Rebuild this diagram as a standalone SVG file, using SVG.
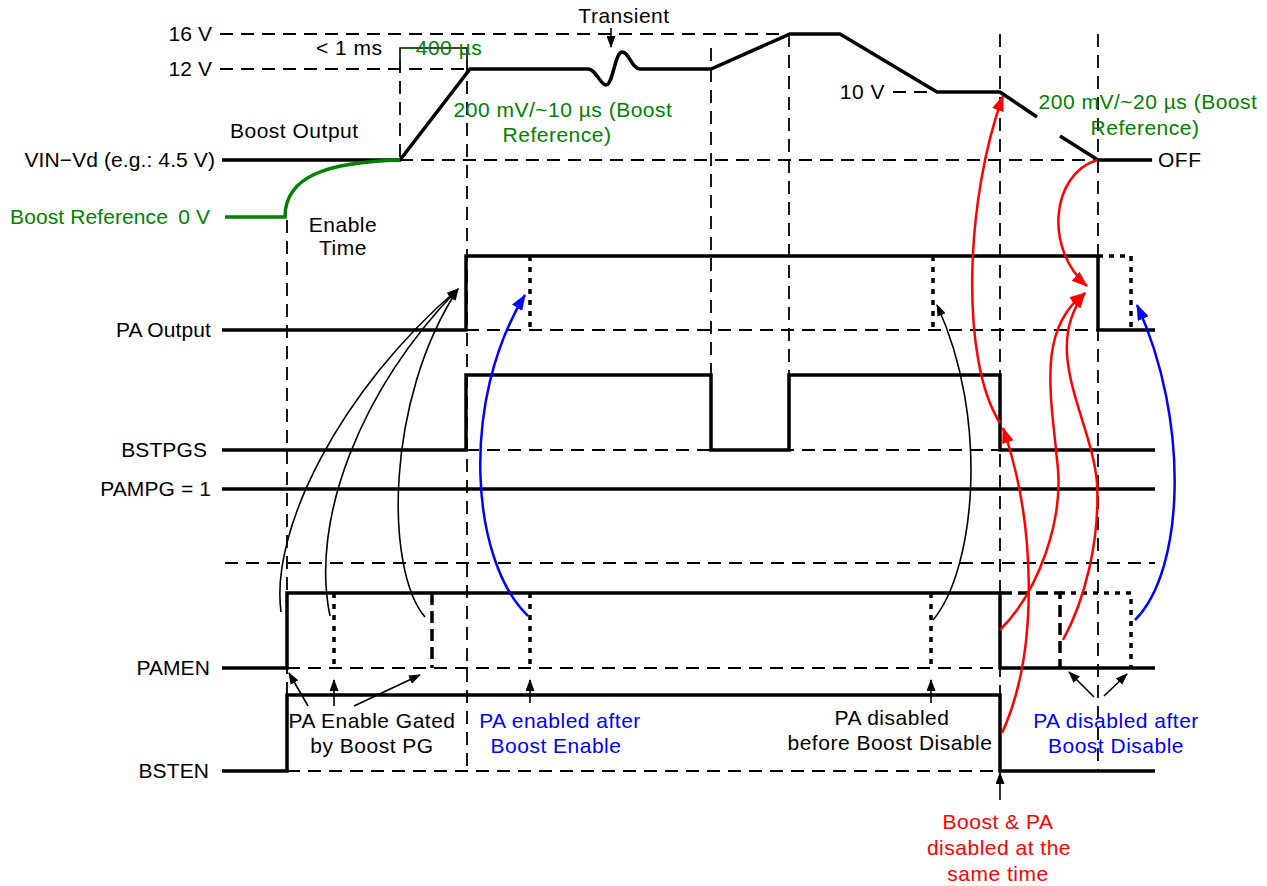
<svg xmlns="http://www.w3.org/2000/svg" width="1267" height="886" viewBox="0 0 1267 886">
<style>
text{font-family:"Liberation Sans",Arial,Helvetica,sans-serif;font-size:21px;letter-spacing:0.5px;fill:#000}
text.lbl{letter-spacing:0.1px}
.g{fill:#008000}.b{fill:#0000ff}.r{fill:#ff0000}
.sig{fill:none;stroke:#000;stroke-width:3.5;stroke-linejoin:miter}
.ref{fill:none;stroke:#000;stroke-width:1.8;stroke-dasharray:13 8}
.alt{fill:none;stroke:#000;stroke-width:3.5;stroke-dasharray:5 6}
.altd{fill:none;stroke:#000;stroke-width:3.5;stroke-dasharray:12 6}
.ca{fill:none;stroke:#000;stroke-width:1.6}
.cr{fill:none;stroke:#ff0000;stroke-width:2.5}
.cb{fill:none;stroke:#0000ff;stroke-width:2.5}
</style>
<defs>
<marker id="ak" viewBox="0 0 12 9" refX="11" refY="4.5" markerWidth="12" markerHeight="9" markerUnits="userSpaceOnUse" orient="auto"><path d="M0,0L12,4.5L0,9z" fill="#000"/></marker>
<marker id="ar" viewBox="0 0 16 12" refX="15" refY="6" markerWidth="16" markerHeight="12" markerUnits="userSpaceOnUse" orient="auto"><path d="M0,0L16,6L0,12z" fill="#ff0000"/></marker>
<marker id="ab" viewBox="0 0 16 12" refX="15" refY="6" markerWidth="16" markerHeight="12" markerUnits="userSpaceOnUse" orient="auto"><path d="M0,0L16,6L0,12z" fill="#0000ff"/></marker>
</defs>
<rect width="1267" height="886" fill="#fff"/>

<g id="grid">
<path class="ref" d="M220,34H790M220,69H470M400,160H1098M893,92H937M225,563H1155"/>
<path class="ref" d="M466,330H1098M466,450H1000M287,668H1000M287,771H1000"/>
<path class="ref" d="M287,220V771M400,60V160M467,60V771M711,48V450M789,34V450M1000,34V771M1098,34V771"/>
<path class="ca" d="M400,60V48H467V60"/>
</g>

<g id="boost-output">
<path class="sig" d="M222,160H400L470,69H588C596,69 600,85 606,85C613,85 615,52 622,52C629,52 632,69 640,69H711L790,34H840L937,92H1000L1037,117M1060,136L1098,160H1152"/>
<path fill="none" stroke="#008000" stroke-width="3.5" d="M225,217H285C285,175 330,162 400,160"/>
<text class="lbl" x="212" y="41" text-anchor="end">16 V</text>
<text class="lbl" x="212" y="76" text-anchor="end">12 V</text>
<text class="lbl" x="215" y="167" text-anchor="end">VIN−Vd (e.g.: 4.5 V)</text>
<text class="lbl g" x="168" y="224" text-anchor="end">Boost Reference</text>
<text class="lbl g" x="210" y="224" text-anchor="end">0 V</text>
<text x="230" y="138">Boost Output</text>
<text x="316" y="55">&lt; 1 ms</text>
<text class="g" x="403" y="55">~400 µs</text>
<text x="624" y="23" text-anchor="middle">Transient</text>
<text class="g" x="563" y="117" text-anchor="middle">200 mV/~10 µs (Boost</text>
<text class="g" x="557" y="142" text-anchor="middle">Reference)</text>
<text x="343" y="232" text-anchor="middle">Enable</text>
<text x="343" y="255" text-anchor="middle">Time</text>
<text x="885" y="99" text-anchor="end">10 V</text>
<text class="g" x="1148" y="109" text-anchor="middle">200 mV/~20 µs (Boost</text>
<text class="g" x="1145" y="135" text-anchor="middle">Reference)</text>
<text x="1158" y="167">OFF</text>
</g>

<g id="pa-output">
<path class="sig" d="M222,330H466V256H1098V330H1155"/>
<path class="alt" d="M530,256V330M933,256V330M1098,256H1131V330"/>
<text class="lbl" x="211" y="337" text-anchor="end">PA Output</text>
</g>

<g id="bstpgs">
<path class="sig" d="M222,450H466V375H711V450H789V375H1000V450H1155"/>
<text class="lbl" x="207" y="457" text-anchor="end">BSTPGS</text>
</g>

<g id="pampg">
<path class="sig" d="M222,489H1155"/>
<text class="lbl" x="211" y="496" text-anchor="end">PAMPG = 1</text>
</g>

<g id="pamen">
<path class="sig" d="M222,668H287V593H1000V668H1155"/>
<path class="alt" d="M334,593V668M530,593V668M931,593V668M1060,593H1131V668"/>
<path class="altd" d="M432,593V668M1000,593H1060V668"/>
<text class="lbl" x="210" y="675" text-anchor="end">PAMEN</text>
</g>

<g id="bsten">
<path class="sig" d="M222,771H287V695H1000V771H1155"/>
<text class="lbl" x="209" y="778" text-anchor="end">BSTEN</text>
</g>

<g id="annotations">
<text x="372" y="728" text-anchor="middle">PA Enable Gated</text>
<text x="372" y="753" text-anchor="middle">by Boost PG</text>
<text class="b" x="560" y="728" text-anchor="middle">PA enabled after</text>
<text class="b" x="556" y="753" text-anchor="middle">Boost Enable</text>
<text x="892" y="725" text-anchor="middle">PA disabled</text>
<text x="890" y="750" text-anchor="middle">before Boost Disable</text>
<text class="b" x="1116" y="728" text-anchor="middle">PA disabled after</text>
<text class="b" x="1116" y="753" text-anchor="middle">Boost Disable</text>
<text class="r" x="998" y="829" text-anchor="middle">Boost &amp; PA</text>
<text class="r" x="999" y="855" text-anchor="middle">disabled at the</text>
<text class="r" x="998" y="881" text-anchor="middle">same time</text>
</g>

<g id="connectors">
<path class="ca" d="M611,28V47" marker-end="url(#ak)"/>
<path class="ca" d="M281,612C270,530 340,390 458,289" marker-end="url(#ak)"/>
<path class="ca" d="M330,616C310,520 360,390 458,289" marker-end="url(#ak)"/>
<path class="ca" d="M425,617C385,570 385,400 458,289" marker-end="url(#ak)"/>
<path class="ca" d="M933,620C975,570 990,420 937,305" marker-end="url(#ak)"/>
<path class="cb" d="M528,616C470,560 460,400 525,295" marker-end="url(#ab)"/>
<path class="cb" d="M1135,620C1185,570 1190,420 1137,305" marker-end="url(#ab)"/>
<path class="cr" d="M1000,423C960,360 965,200 1003,96" marker-end="url(#ar)"/>
<path class="cr" d="M1002,733C1040,650 1035,520 1003,428" marker-end="url(#ar)"/>
<path class="cr" d="M1000,630C1040,590 1062,520 1058,470C1052,400 1035,330 1085,293" marker-end="url(#ar)"/>
<path class="cr" d="M1063,640C1085,600 1100,540 1097,483C1092,420 1040,350 1085,293" marker-end="url(#ar)"/>
<path class="cr" d="M1097,160C1050,175 1045,250 1087,286" marker-end="url(#ar)"/>
<path class="ca" d="M1000,800V773" marker-end="url(#ak)"/>
<path class="ca" d="M334,706V680" marker-end="url(#ak)"/>
<path class="ca" d="M530,703V680" marker-end="url(#ak)"/>
<path class="ca" d="M931,703V680" marker-end="url(#ak)"/>
<path class="ca" d="M308,706L289,673" marker-end="url(#ak)"/>
<path class="ca" d="M354,706L420,675" marker-end="url(#ak)"/>
<path class="ca" d="M1094,697L1069,672" marker-end="url(#ak)"/>
<path class="ca" d="M1104,696L1127,674" marker-end="url(#ak)"/>
</g>
</svg>
